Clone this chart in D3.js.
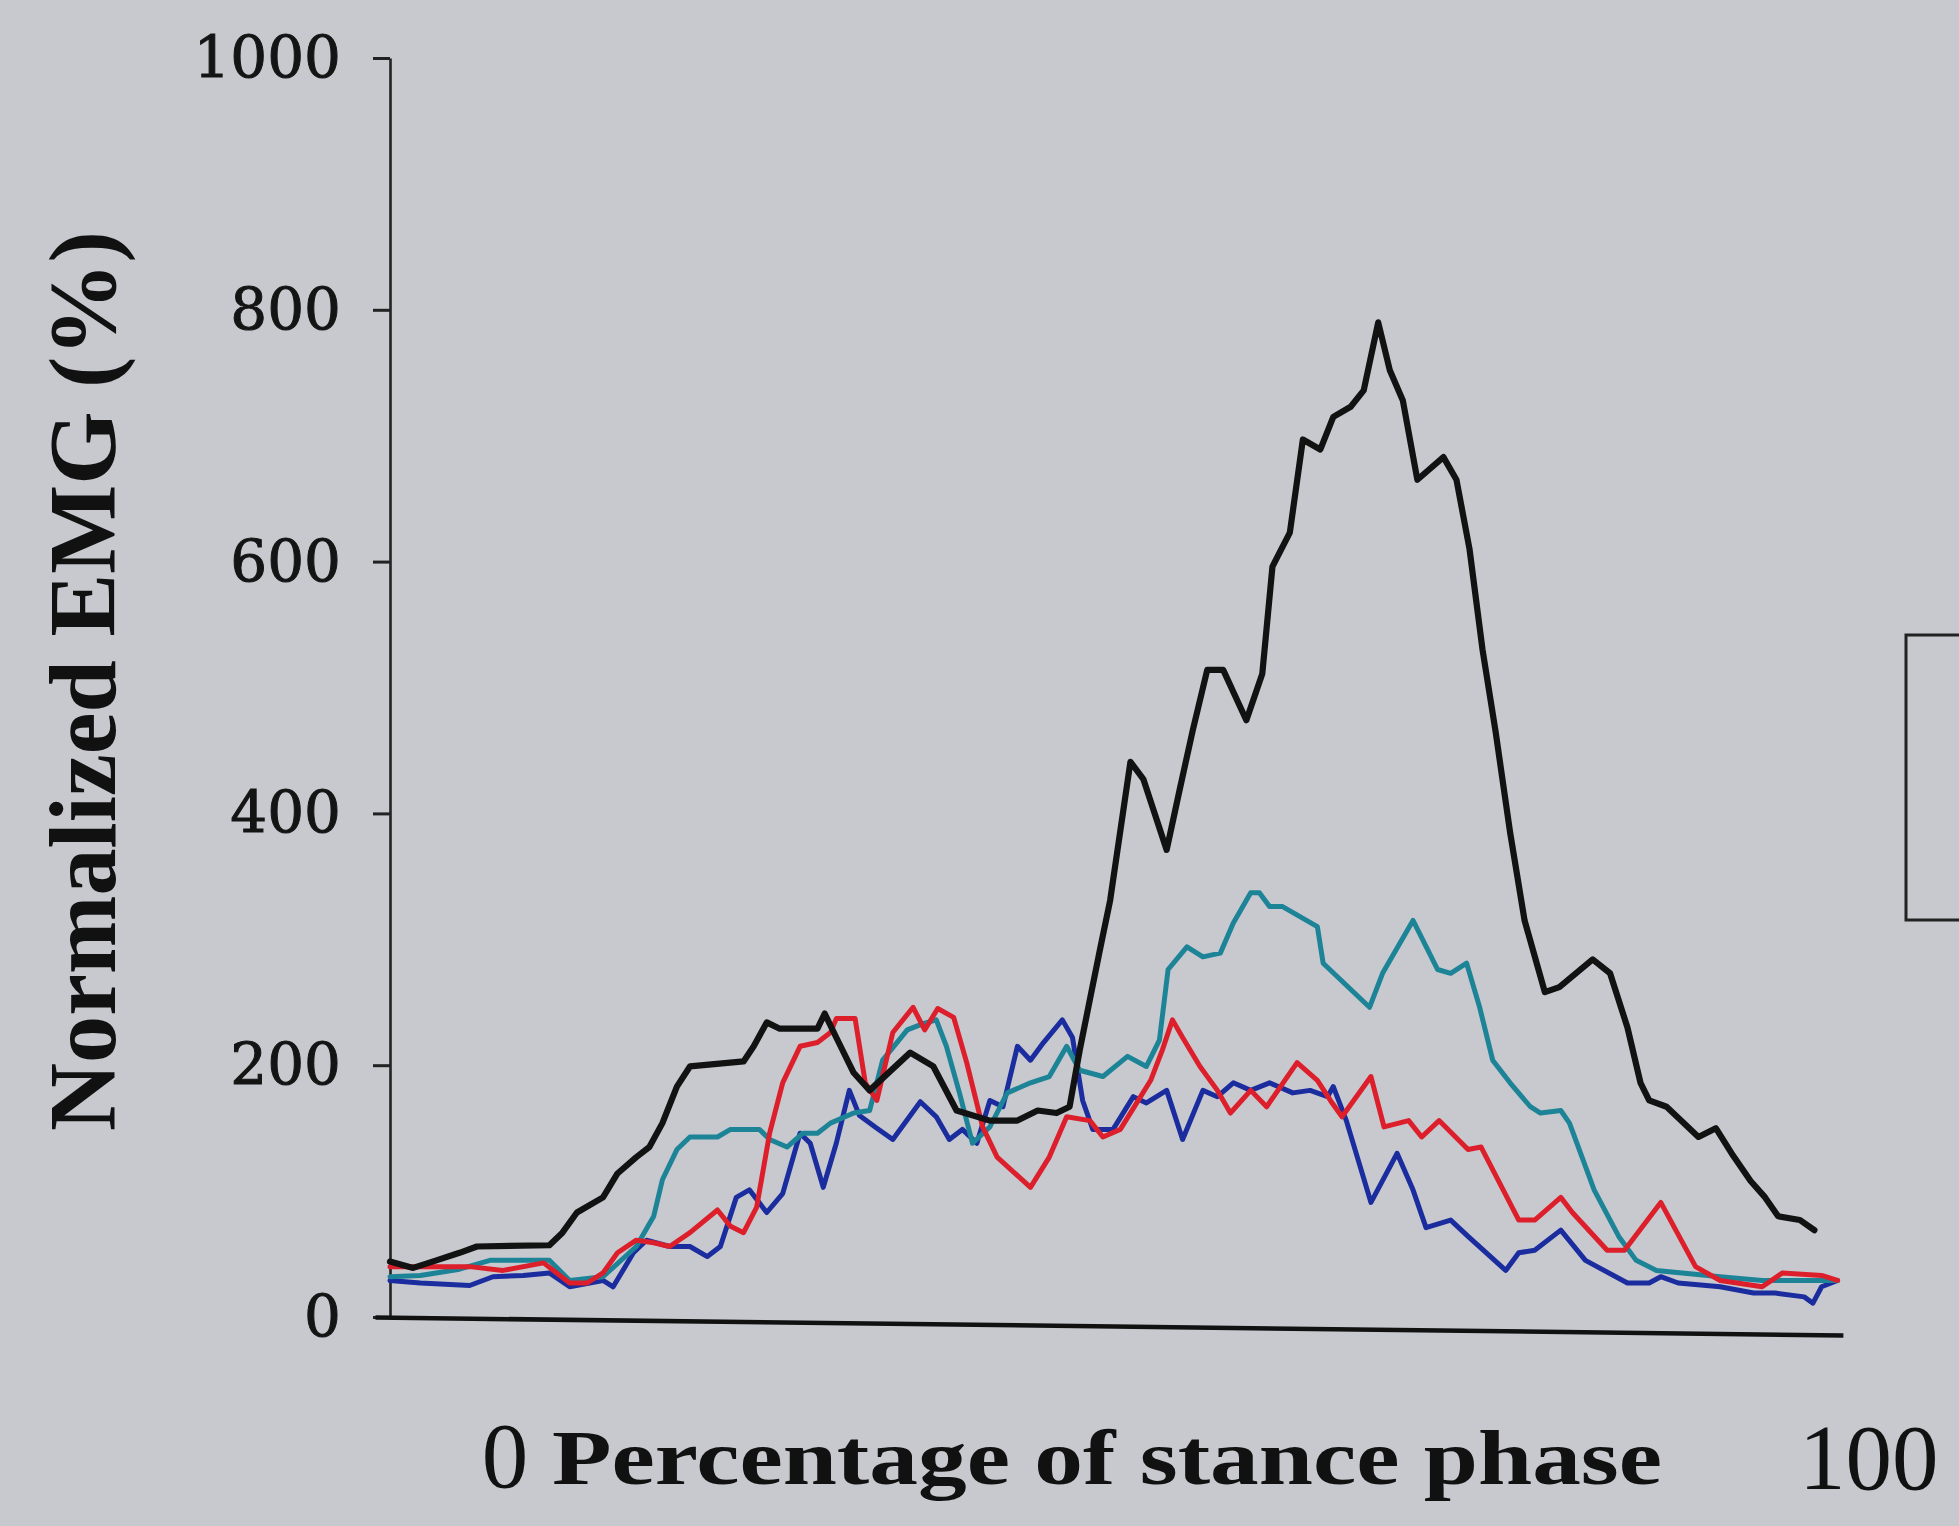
<!DOCTYPE html>
<html>
<head>
<meta charset="utf-8">
<script src="https://cdn.jsdelivr.net/npm/d3@7"></script>
<style>
  html, body { margin: 0; padding: 0; background: #c7c9ce; }
  svg { display: block; }
</style>
</head>
<body>
<svg id="chart" width="1959" height="1526"></svg>
<script>
// ---- Data (x = percentage of stance phase, y = normalized EMG %) ----
const yTicks = [0, 200, 400, 600, 800, 1000];
const xLabels = ["0", "100"];
const xTitle = "Percentage of stance phase";
const yTitle = "Normalized EMG (%)";
const seriesNames = ["blue", "teal", "red", "black"];

const blackPct = [0,1.6,3.2,4.8,6.0,11.0,11.9,12.9,14.7,15.7,17.0,17.9,18.8,19.8,20.7,24.4,25.1,26.0,26.9,29.5,30.0,30.8,32.0,33.1,35.9,37.5,39.1,41.4,43.3,44.7,46.0,46.9,47.6,48.3,49.0,49.7,51.1,52.0,53.6,54.5,55.4,56.4,57.5,59.1,60.2,60.9,62.1,63.0,64.2,65.1,66.3,67.2,68.2,69.0,69.9,70.9,72.7,73.6,74.5,75.4,76.3,77.3,78.3,79.7,80.7,83.0,84.2,85.4,86.3,86.9,88.1,90.3,91.5,92.7,93.9,94.9,95.8,97.3,98.3];
const blackVal = [44,39,45,51,56,57,67,83,95,114,127,135,154,183,199,203,215,234,229,229,241,222,194,180,210,199,164,156,156,164,162,167,212,252,292,331,441,427,371,419,466,514,514,474,511,596,623,697,689,715,723,736,790,752,728,665,683,665,610,530,465,385,315,258,262,284,273,230,186,172,167,143,150,128,108,95,80,77,69];

const tealPct = [0,2.1,4.8,6.9,11.0,12.4,14.7,17.0,18.2,18.8,19.8,20.7,22.6,23.5,25.5,26.2,27.4,28.5,29.5,30.4,32.0,33.1,34.0,35.7,36.8,37.7,38.4,39.3,40.2,41.4,42.6,44.2,45.5,46.7,47.6,49.2,50.9,52.2,53.1,53.7,55.0,56.1,57.3,58.2,59.4,60.0,60.7,61.6,64.0,64.4,67.6,68.5,70.6,72.3,73.2,74.3,75.2,76.1,77.3,78.7,79.4,80.8,81.4,83.1,84.8,86.0,87.4,91.8,94.7,99.9];
const tealVal = [32,33,38,45,45,29,32,56,80,109,133,143,143,149,149,141,135,146,146,154,162,164,204,228,233,236,215,178,138,151,178,186,191,215,196,191,207,199,220,276,294,286,289,313,337,337,326,326,310,281,246,273,315,276,273,281,246,204,186,167,162,164,154,101,64,45,37,32,29,29];

const redPct = [0,3.2,5.5,7.8,10.6,12.4,13.6,14.7,15.7,17.0,18.2,19.3,20.7,22.6,23.5,24.4,25.3,26.2,27.1,28.3,29.5,30.4,30.8,32.1,32.8,33.6,34.7,36.1,36.9,37.8,38.9,39.8,40.9,41.9,44.2,45.5,46.7,48.3,49.2,50.4,51.8,52.5,53.3,54.0,54.7,55.9,57.1,58.0,59.4,60.5,62.6,64.0,64.9,65.7,67.7,68.6,70.3,71.2,72.4,74.4,75.3,77.9,79.0,80.8,81.6,84.0,85.2,87.7,90.1,91.8,94.7,96.1,98.8,99.9];
const redVal = [40,40,40,37,43,27,27,35,51,61,59,56,67,85,72,67,87,146,186,215,218,226,237,237,186,172,226,246,228,245,238,202,151,127,103,127,159,156,143,149,175,188,212,236,222,199,180,162,180,167,202,188,172,159,191,151,156,143,156,133,135,77,77,95,83,53,53,91,40,29,24,35,33,29];

const bluePct = [0,2.1,5.5,7.1,9.2,11.0,12.4,14.7,15.4,16.8,17.7,19.3,20.7,21.9,22.8,23.9,24.8,26.0,27.1,28.3,29.0,29.9,30.8,31.7,32.4,33.6,34.7,36.6,37.7,38.6,39.5,40.5,41.4,42.3,43.3,44.2,45.1,46.4,47.1,47.8,48.5,49.9,51.3,52.2,53.6,54.7,56.1,57.1,58.2,59.4,60.7,62.3,63.5,64.7,65.1,66.0,67.7,69.5,70.6,71.5,73.2,74.4,77.0,77.9,79.0,80.8,82.5,85.4,86.9,87.7,88.9,91.8,94.1,95.6,97.6,98.2,98.8,99.9];
const blueVal = [29,27,25,32,33,35,24,29,24,51,61,56,56,48,56,95,101,83,98,146,138,103,138,180,160,150,141,171,159,141,149,138,172,167,215,204,218,236,222,172,149,149,175,170,180,141,180,175,186,180,186,178,180,175,183,156,91,130,101,71,77,64,37,51,53,69,45,27,27,32,27,24,19,19,16,11,24,29];

const seriesPct = { blue: bluePct, teal: tealPct, red: redPct, black: blackPct };
const seriesVal = { blue: blueVal, teal: tealVal, red: redVal, black: blackVal };
const seriesColor = { blue: "#1b2d9e", teal: "#1d8498", red: "#dc1f2b", black: "#121212" };
const seriesWidth = { blue: 5, teal: 5, red: 5, black: 6.2 };

// ---- Layout ----
const svg = d3.select("#chart");
const x = d3.scaleLinear().domain([0, 100]).range([390, 1839]);
const y = d3.scaleLinear().domain([0, 1000]).range([1317, 58]);
const xAxisExtent = x.copy().range([375, 1843]);

// Y axis
const yAxis = d3.axisLeft(y).tickValues(yTicks).tickSize(17).tickSizeOuter(0).tickPadding(32).tickFormat(d3.format("d"));
const gy = svg.append("g").attr("transform", "translate(390,0)").call(yAxis);
gy.select(".domain").attr("stroke", "#222").attr("stroke-width", 2.6);
gy.selectAll(".tick line").attr("stroke", "#222").attr("stroke-width", 3);
gy.selectAll(".tick text")
  .attr("fill", "#141414")
  .attr("stroke", "#141414")
  .attr("stroke-width", 1)
  .style("font-family", "'DejaVu Serif', serif")
  .style("font-size", "58px");

// X axis (slightly tilted as in the photographed figure)
const xAxis = d3.axisBottom(xAxisExtent).tickValues([]).tickSizeOuter(0);
const gx = svg.append("g")
  .attr("transform", "translate(0," + y(0) + ") rotate(0.7, 375, 0)")
  .call(xAxis);
gx.select(".domain").attr("stroke", "#111").attr("stroke-width", 4.5);

// Lines
const line = d3.line().x(d => x(d[0])).y(d => y(d[1]));
seriesNames.forEach(name => {
  const pts = seriesPct[name].map((p, i) => [p, seriesVal[name][i]]);
  svg.append("path")
    .datum(pts)
    .attr("fill", "none")
    .attr("stroke", seriesColor[name])
    .attr("stroke-width", seriesWidth[name])
    .attr("stroke-linejoin", "round")
    .attr("stroke-linecap", "round")
    .attr("d", line);
});

// X labels "0" and "100"
svg.append("text").text(xLabels[0])
  .attr("x", 505).attr("y", 1487)
  .attr("text-anchor", "middle")
  .attr("fill", "#111")
  .style("font-family", "'Liberation Serif', serif")
  .style("font-size", "93px");
svg.append("text").text(xLabels[1])
  .attr("x", 1799).attr("y", 1489)
  .attr("fill", "#111")
  .style("font-family", "'Liberation Serif', serif")
  .style("font-size", "93px");

// X title
svg.append("text").text(xTitle)
  .attr("x", 552).attr("y", 1484)
  .attr("textLength", 1110)
  .attr("lengthAdjust", "spacingAndGlyphs")
  .attr("fill", "#111")
  .style("font-family", "'Liberation Serif', serif")
  .style("font-weight", "bold")
  .style("font-size", "78px");

// Y title
svg.append("text").text(yTitle)
  .attr("transform", "translate(115,681) rotate(-90)")
  .attr("text-anchor", "middle")
  .attr("textLength", 900)
  .attr("lengthAdjust", "spacingAndGlyphs")
  .attr("fill", "#111")
  .style("font-family", "'Liberation Serif', serif")
  .style("font-weight", "bold")
  .style("font-size", "95px");

// Legend frame (cut off at the right edge)
svg.append("rect")
  .attr("x", 1906).attr("y", 635)
  .attr("width", 80).attr("height", 285)
  .attr("fill", "none")
  .attr("stroke", "#222")
  .attr("stroke-width", 3);
</script>
</body>
</html>
